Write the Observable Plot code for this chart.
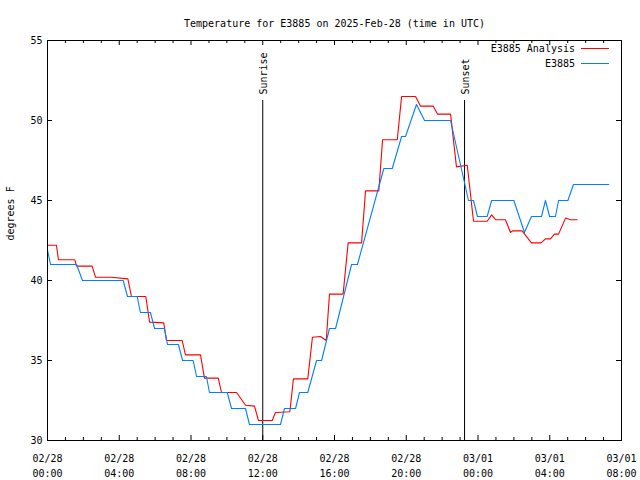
<!DOCTYPE html>
<html><head><meta charset="utf-8">
<script src="https://cdn.jsdelivr.net/npm/d3@7"></script>
<script src="https://cdn.jsdelivr.net/npm/@observablehq/plot@0.6"></script>
<style>
body{margin:0;background:#fff}
#wrap{position:relative;width:640px;height:480px;background:#fff}
.leg{position:absolute;font:10px "DejaVu Sans Mono",monospace;line-height:12px;color:#000;white-space:pre}
.legline{position:absolute;height:0;border-top:1px solid}
</style></head><body><div id="wrap"></div>
<script>
const chartTitle = "Temperature for E3885 on 2025-Feb-28 (time in UTC)";
const yLabel = "degrees F";
const seriesNames = ["E3885 Analysis", "E3885"];
const seriesColors = ["#ff0000", "#0080ff"];
const startTime = "2025-02-28T00:00:00Z";
const endHour = 32;

// hours since 02/28 00:00 UTC and temperatures (°F)
const analysisHours = [0, 0.50, 0.61, 1.52, 1.62, 2.49, 2.68, 3.57, 4.48, 4.68, 5.48, 5.69, 6.48, 6.63, 7.51, 7.69, 8.53, 8.75, 9.52, 9.70, 10.54, 11.04, 11.54, 11.76, 12.53, 12.71, 13.51, 13.71, 14.51, 14.77, 15.22, 15.54, 15.72, 16.48, 16.76, 17.51, 17.73, 18.47, 18.68, 19.50, 19.74, 20.52, 20.79, 21.50, 21.74, 22.47, 22.80, 23.40, 23.75, 24.51, 24.76, 24.98, 25.53, 25.81, 25.92, 26.46, 26.98, 27.52, 27.76, 28.04, 28.26, 28.49, 28.88, 29.16, 29.53];
const analysisTemps = [42.2, 42.2, 41.3, 41.3, 40.9, 40.9, 40.2, 40.2, 40.1, 39.0, 39.0, 37.4, 37.35, 36.25, 36.25, 35.35, 35.35, 33.9, 33.9, 33.0, 33.0, 32.2, 32.15, 31.25, 31.25, 31.75, 31.8, 33.85, 33.85, 36.45, 36.5, 36.25, 39.15, 39.15, 42.35, 42.35, 45.6, 45.6, 48.8, 48.8, 51.5, 51.5, 50.9, 50.9, 50.4, 50.4, 47.1, 47.2, 43.7, 43.7, 44.1, 43.8, 43.8, 43.0, 43.1, 43.1, 42.35, 42.35, 42.6, 42.6, 42.9, 42.9, 43.9, 43.8, 43.8];

const sensorHours = [0, 0.17, 1.62, 1.95, 4.22, 4.46, 5.00, 5.18, 5.74, 5.97, 6.52, 6.69, 7.30, 7.53, 8.12, 8.31, 8.86, 9.03, 10.02, 10.26, 11.04, 11.26, 12.99, 13.21, 13.83, 14.05, 14.51, 15.00, 15.28, 15.72, 16.06, 16.95, 17.28, 18.75, 19.22, 19.74, 19.96, 20.57, 21.02, 22.47, 23.47, 23.75, 23.97, 24.51, 24.76, 26.00, 26.59, 26.98, 27.54, 27.76, 27.99, 28.32, 28.49, 29.01, 29.32, 31.29];
const sensorTemps = [41.9, 41.0, 41.0, 40.0, 40.0, 39.0, 39.0, 38.0, 38.0, 37.0, 37.0, 36.0, 36.0, 35.0, 35.0, 34.0, 34.0, 33.0, 33.0, 32.0, 32.0, 31.0, 31.0, 32.0, 32.0, 33.0, 33.0, 35.0, 35.0, 37.0, 37.0, 41.0, 41.0, 47.0, 47.0, 49.0, 49.0, 51.0, 50.0, 50.0, 45.0, 45.0, 44.0, 44.0, 45.0, 45.0, 43.0, 44.0, 44.0, 45.0, 44.0, 44.0, 45.0, 45.0, 46.0, 46.0];

const eventNames = ["Sunrise", "Sunset"];
const eventHours = [12.0, 23.25];
const eventTop = 51.25;

const yTicks = [30, 35, 40, 45, 50, 55];
const xMajorHours = [0, 4, 8, 12, 16, 20, 24, 28, 32];
const xTickLabels = ["02/28\n00:00", "02/28\n04:00", "02/28\n08:00", "02/28\n12:00", "02/28\n16:00", "02/28\n20:00", "03/01\n00:00", "03/01\n04:00", "03/01\n08:00"];
const xMinorHours = d3.range(0, endHour + 1).filter(h => h % 4 !== 0);

const t0 = new Date(startTime).getTime();
const toDate = h => new Date(t0 + h * 3600 * 1000);

const analysis = analysisHours.map((h, i) => ({t: toDate(h), v: analysisTemps[i]}));
const sensor = sensorHours.map((h, i) => ({t: toDate(h), v: sensorTemps[i]}));
const events = eventNames.map((n, i) => ({name: n, t: toDate(eventHours[i])}));

const W = 640, H = 480, mL = 47, mR = 19, mT = 40, mB = 40;
const iW = W - mL - mR, iH = H - mT - mB;
const majorLen = 5, minorLen = 3;

const chart = Plot.plot({
  width: W, height: H,
  marginLeft: mL, marginRight: mR, marginTop: mT, marginBottom: mB,
  x: {type: "utc", domain: [toDate(0), toDate(endHour)], axis: null},
  y: {domain: [30, 55], axis: null},
  style: {fontFamily: "DejaVu Sans Mono, monospace", fontSize: "10px", background: "white", color: "black"},
  marks: [
    // ticks (inward, mirrored)
    Plot.ruleX(xMajorHours, {x: toDate, insetTop: iH - majorLen, stroke: "black"}),
    Plot.ruleX(xMajorHours, {x: toDate, insetBottom: iH - majorLen, stroke: "black"}),
    Plot.ruleX(xMinorHours, {x: toDate, insetTop: iH - minorLen, stroke: "black"}),
    Plot.ruleX(xMinorHours, {x: toDate, insetBottom: iH - minorLen, stroke: "black"}),
    Plot.ruleY(yTicks, {y: d => d, insetRight: iW - majorLen, stroke: "black"}),
    Plot.ruleY(yTicks, {y: d => d, insetLeft: iW - majorLen, stroke: "black"}),
    // tick labels
    Plot.text(xMajorHours, {x: toDate, text: (d, i) => xTickLabels[i], frameAnchor: "bottom", lineAnchor: "top", dy: 11, lineHeight: 1.5, fill: "black"}),
    Plot.text(yTicks, {y: d => d, text: d => String(d), frameAnchor: "left", textAnchor: "end", dx: -5, fill: "black"}),
    // axis label and title
    Plot.text([yLabel], {text: d => d, frameAnchor: "left", rotate: -90, dx: -37, fill: "black"}),
    Plot.text([chartTitle], {text: d => d, frameAnchor: "top", dy: -21, fill: "black"}),
    // sunrise / sunset
    Plot.ruleX(events, {x: "t", y1: 30, y2: eventTop, stroke: "black", strokeWidth: 1}),
    Plot.text(events, {x: "t", y: eventTop, text: "name", rotate: -90, textAnchor: "start", dy: -6, dx: 1, fill: "black"}),
    // data
    Plot.line(analysis, {x: "t", y: "v", stroke: seriesColors[0], strokeWidth: 1.1}),
    Plot.line(sensor, {x: "t", y: "v", stroke: seriesColors[1], strokeWidth: 1.1}),
    Plot.frame({stroke: "black"})
  ]
});

const wrap = document.getElementById("wrap");
wrap.appendChild(chart);

// legend (top right, inside plot)
seriesNames.forEach((name, i) => {
  const cy = 48 + i * 15;
  const lab = document.createElement("div");
  lab.className = "leg";
  lab.textContent = name;
  lab.style.right = (W - 575) + "px";
  lab.style.top = (cy - 5) + "px";
  wrap.appendChild(lab);
  const ln = document.createElement("div");
  ln.className = "legline";
  ln.style.left = "581px";
  ln.style.width = "28px";
  ln.style.top = cy + "px";
  ln.style.borderColor = seriesColors[i];
  wrap.appendChild(ln);
});
</script>
</body></html>
